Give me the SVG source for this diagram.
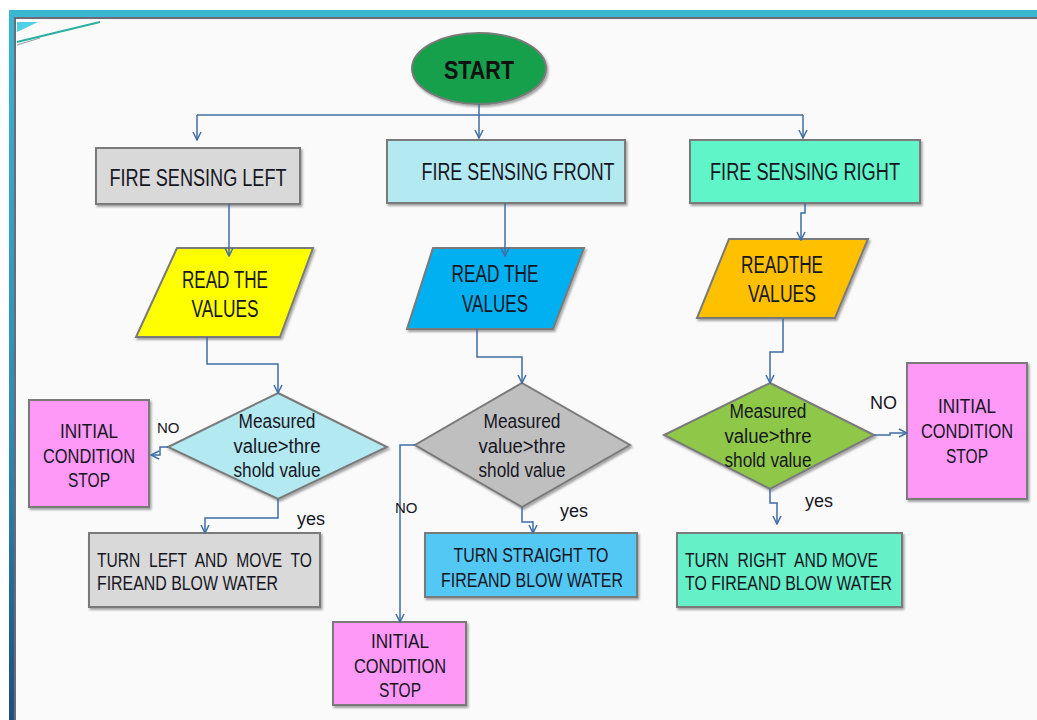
<svg xmlns="http://www.w3.org/2000/svg" width="1037" height="720" viewBox="0 0 1037 720">
<defs>
<style>
.t{font-family:"Liberation Sans",Arial,sans-serif;font-size:23px;fill:#16161f}
.d{font-family:"Liberation Sans",Arial,sans-serif;font-size:20px;fill:#16161f}
.s{font-family:"Liberation Sans",Arial,sans-serif;font-size:15px;fill:#16161f}
.y{font-family:"Liberation Sans",Arial,sans-serif;font-size:18px;fill:#16161f}
.n{stroke:#7a7a7a;stroke-width:2;filter:url(#sh)}
.c{fill:none;stroke:#3e6ea6;stroke-width:1.5;marker-end:url(#arr)}
</style>
<filter id="sh" x="-10%" y="-10%" width="130%" height="130%">
<feDropShadow dx="1.5" dy="2" stdDeviation="0.8" flood-color="#000" flood-opacity="0.35"/>
</filter>
<marker id="arr" viewBox="0 0 10 10" refX="9" refY="5" markerWidth="10" markerHeight="10" markerUnits="userSpaceOnUse" orient="auto">
<path d="M1,1 L9,5 L1,9" fill="none" stroke="#3e6ea6" stroke-width="1.5"/>
</marker>
<linearGradient id="lb" x1="0" y1="0" x2="0" y2="1">
<stop offset="0" stop-color="#3bb6cf"/>
<stop offset="0.6" stop-color="#2a8cb0"/>
<stop offset="1" stop-color="#1d4f7e"/>
</linearGradient>
</defs>
<rect width="1037" height="720" fill="#ffffff"/>
<rect x="14" y="17" width="1023" height="703" fill="#fafafa"/>
<rect x="9" y="10" width="1028" height="7" fill="#3bb6cf"/>
<rect x="9" y="10" width="5" height="710" fill="url(#lb)"/>
<rect x="14" y="17" width="1023" height="2" fill="#6a6a7a"/>
<rect x="14" y="17" width="2" height="703" fill="#6a6a7a"/>
<polygon points="17,22 38,22 17,32" fill="#4fd0e6"/>
<line x1="17" y1="42" x2="100" y2="22" stroke="#2ab0a0" stroke-width="2"/>
<line x1="17" y1="45" x2="40" y2="38" stroke="#9a9aa8" stroke-width="1"/>

<g id="start">
<ellipse class="n" cx="479" cy="68.5" rx="67" ry="35.5" fill="#12a04c"/>
<text x="479" y="79" text-anchor="middle" style="font-family:'Liberation Sans',Arial,sans-serif;font-size:26px;font-weight:bold;fill:#111" textLength="70" lengthAdjust="spacingAndGlyphs">START</text>
</g>

<g id="sense-left">
<rect class="n" x="96" y="148" width="204" height="56" fill="#d9d9d9"/>
<text class="t" x="198" y="186" text-anchor="middle" textLength="177" lengthAdjust="spacingAndGlyphs">FIRE SENSING LEFT</text>
</g>
<g id="sense-front">
<rect class="n" x="387" y="140" width="238" height="63" fill="#b3e9f1"/>
<text class="t" x="518" y="180" text-anchor="middle" textLength="193" lengthAdjust="spacingAndGlyphs">FIRE SENSING FRONT</text>
</g>
<g id="sense-right">
<rect class="n" x="690" y="140" width="230" height="63" fill="#5ff5c9"/>
<text class="t" x="805" y="180" text-anchor="middle" textLength="190" lengthAdjust="spacingAndGlyphs">FIRE SENSING RIGHT</text>
</g>

<g id="read-left">
<polygon class="n" points="177,248 313,248 280,337 136,337" fill="#ffff00"/>
<text class="t" x="225" y="288" text-anchor="middle" textLength="86" lengthAdjust="spacingAndGlyphs">READ THE</text>
<text class="t" x="225" y="317" text-anchor="middle" textLength="67" lengthAdjust="spacingAndGlyphs">VALUES</text>
</g>
<g id="read-front">
<polygon class="n" points="433,248 584,248 553,329 407,329" fill="#00b0f0"/>
<text class="t" x="495" y="282" text-anchor="middle" textLength="87" lengthAdjust="spacingAndGlyphs">READ THE</text>
<text class="t" x="495" y="312" text-anchor="middle" textLength="66" lengthAdjust="spacingAndGlyphs">VALUES</text>
</g>
<g id="read-right">
<polygon class="n" points="729,239 868,239 835,318 697,318" fill="#ffc000"/>
<text class="t" x="782" y="273" text-anchor="middle" textLength="82" lengthAdjust="spacingAndGlyphs">READTHE</text>
<text class="t" x="782" y="302" text-anchor="middle" textLength="68" lengthAdjust="spacingAndGlyphs">VALUES</text>
</g>

<g id="decision-left">
<polygon class="n" points="278,393 387,447 278,499 168,447" fill="#b3e9f1"/>
<text class="d" x="277" y="428" text-anchor="middle" textLength="77" lengthAdjust="spacingAndGlyphs">Measured</text>
<text class="d" x="277" y="453" text-anchor="middle" textLength="87" lengthAdjust="spacingAndGlyphs">value&gt;thre</text>
<text class="d" x="277" y="477" text-anchor="middle" textLength="87" lengthAdjust="spacingAndGlyphs">shold value</text>
</g>
<g id="decision-front">
<polygon class="n" points="522,383 630,445 522,507 415,445" fill="#bfbfbf"/>
<text class="d" x="522" y="428" text-anchor="middle" textLength="77" lengthAdjust="spacingAndGlyphs">Measured</text>
<text class="d" x="522" y="453" text-anchor="middle" textLength="87" lengthAdjust="spacingAndGlyphs">value&gt;thre</text>
<text class="d" x="522" y="477" text-anchor="middle" textLength="87" lengthAdjust="spacingAndGlyphs">shold value</text>
</g>
<g id="decision-right">
<polygon class="n" points="770,383 874,435 770,489 664,435" fill="#8fc74a"/>
<text class="d" x="768" y="418" text-anchor="middle" textLength="77" lengthAdjust="spacingAndGlyphs">Measured</text>
<text class="d" x="768" y="443" text-anchor="middle" textLength="87" lengthAdjust="spacingAndGlyphs">value&gt;thre</text>
<text class="d" x="768" y="467" text-anchor="middle" textLength="87" lengthAdjust="spacingAndGlyphs">shold value</text>
</g>

<g id="stop-left">
<rect class="n" x="29" y="400" width="120" height="107" fill="#ff99f8"/>
<text class="d" x="89" y="438" text-anchor="middle" textLength="58" lengthAdjust="spacingAndGlyphs">INITIAL</text>
<text class="d" x="89" y="463" text-anchor="middle" textLength="92" lengthAdjust="spacingAndGlyphs">CONDITION</text>
<text class="d" x="89" y="487" text-anchor="middle" textLength="42" lengthAdjust="spacingAndGlyphs">STOP</text>
</g>
<g id="stop-front">
<rect class="n" x="333" y="622" width="133" height="83" fill="#ff99f8"/>
<text class="d" x="400" y="648" text-anchor="middle" textLength="58" lengthAdjust="spacingAndGlyphs">INITIAL</text>
<text class="d" x="400" y="673" text-anchor="middle" textLength="92" lengthAdjust="spacingAndGlyphs">CONDITION</text>
<text class="d" x="400" y="697" text-anchor="middle" textLength="42" lengthAdjust="spacingAndGlyphs">STOP</text>
</g>
<g id="stop-right">
<rect class="n" x="907" y="363" width="120" height="136" fill="#ff99f8"/>
<text class="d" x="967" y="413" text-anchor="middle" textLength="58" lengthAdjust="spacingAndGlyphs">INITIAL</text>
<text class="d" x="967" y="438" text-anchor="middle" textLength="92" lengthAdjust="spacingAndGlyphs">CONDITION</text>
<text class="d" x="967" y="463" text-anchor="middle" textLength="42" lengthAdjust="spacingAndGlyphs">STOP</text>
</g>

<g id="turn-left">
<rect class="n" x="89" y="533" width="231" height="74" fill="#d9d9d9"/>
<text class="d" x="97" y="567" textLength="215" lengthAdjust="spacingAndGlyphs" xml:space="preserve">TURN  LEFT  AND  MOVE  TO</text>
<text class="d" x="97" y="590" textLength="181" lengthAdjust="spacingAndGlyphs">FIREAND BLOW WATER</text>
</g>
<g id="turn-front">
<rect class="n" x="425" y="533" width="212" height="64" fill="#52c8f5"/>
<text class="d" x="531" y="562" text-anchor="middle" textLength="155" lengthAdjust="spacingAndGlyphs">TURN STRAIGHT TO</text>
<text class="d" x="532" y="587" text-anchor="middle" textLength="182" lengthAdjust="spacingAndGlyphs">FIREAND BLOW WATER</text>
</g>
<g id="turn-right">
<rect class="n" x="677" y="533" width="225" height="74" fill="#66f0c8"/>
<text class="d" x="685" y="567" textLength="193" lengthAdjust="spacingAndGlyphs" xml:space="preserve">TURN  RIGHT  AND MOVE</text>
<text class="d" x="685" y="590" textLength="207" lengthAdjust="spacingAndGlyphs">TO FIREAND BLOW WATER</text>
</g>

<g id="connectors">
<polyline class="c" points="197,115 803,115" style="marker-end:none"/>
<polyline class="c" points="479,104 479,138"/>
<polyline class="c" points="197,115 197,140"/>
<polyline class="c" points="803,115 803,138"/>
<polyline class="c" points="229,204 229,256"/>
<polyline class="c" points="207,337 207,364 278,364 278,393"/>
<polyline class="c" points="168,447 160,447 160,455 151,455"/>
<polyline class="c" points="278,499 278,518 205,518 205,533"/>
<polyline class="c" points="505,203 505,256"/>
<polyline class="c" points="477,329 477,357 522,357 522,383"/>
<polyline class="c" points="415,445 400,445 400,622"/>
<polyline class="c" points="522,507 522,522 533,522 533,533"/>
<polyline class="c" points="805,203 805,213 801,213 801,240"/>
<polyline class="c" points="783,318 783,352 770,352 770,383"/>
<polyline class="c" points="874,435 890,435 890,433 907,433"/>
<polyline class="c" points="770,489 770,503 777,503 777,524"/>
</g>

<g id="labels">
<text class="s" x="157" y="433">NO</text>
<text class="s" x="395" y="513">NO</text>
<text class="y" x="870" y="409">NO</text>
<text class="y" x="297" y="525">yes</text>
<text class="y" x="560" y="517">yes</text>
<text class="y" x="805" y="507">yes</text>
</g>
</svg>
